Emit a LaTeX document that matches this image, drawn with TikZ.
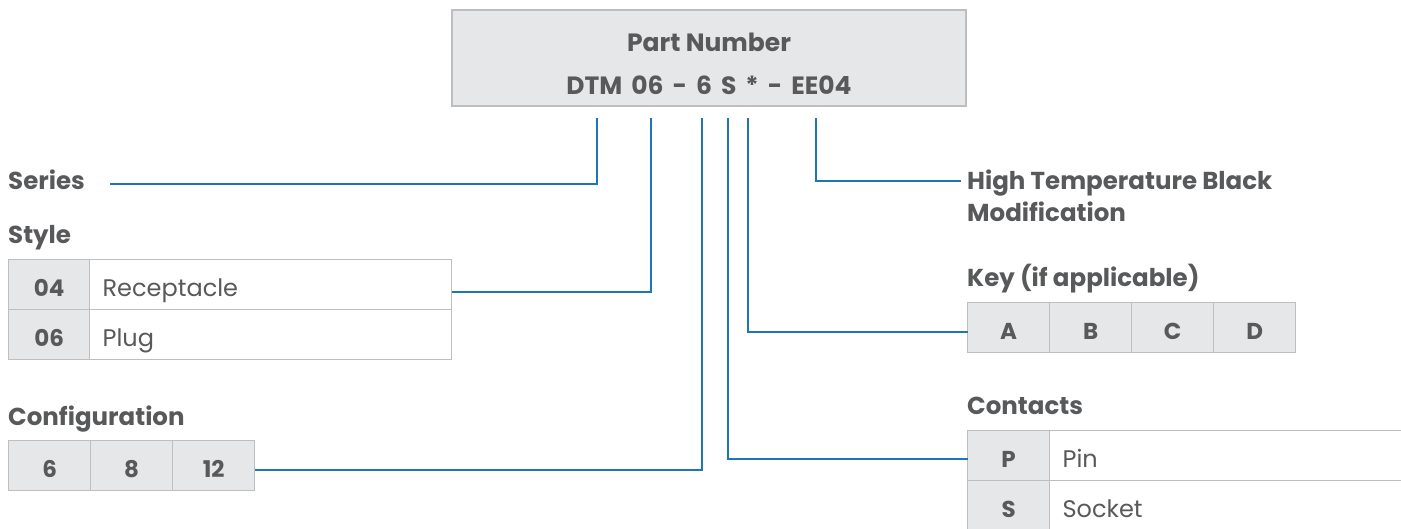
\documentclass[tikz,border=0pt]{standalone}
\usepackage{fontspec}
\setmainfont{Poppins}
\usetikzlibrary{matrix,positioning}

\definecolor{ink}{HTML}{58595B}
\definecolor{wireblue}{HTML}{1E77AF}
\definecolor{cellgray}{HTML}{E6E7E8}
\definecolor{rulegray}{HTML}{BDBEC0}

\tikzset{
  wire/.style={draw=wireblue, line width=1.9pt},
  title/.style={anchor=base west, inner sep=0pt, text=ink, font=\fontsize{24.5}{32}\selectfont\bfseries},
  cell/.style={draw=rulegray, line width=1.3pt, fill=cellgray, text=ink, inner sep=0pt,
    minimum height=50pt, text height=24pt, text depth=0pt, font=\fontsize{23}{26}\selectfont\bfseries},
  desc/.style={fill=white, font=\fontsize{24}{26}\selectfont, align=left, inner xsep=13pt},
  table/.style={matrix of nodes, anchor=north west, inner sep=0pt, outer sep=0pt,
    column sep=-1.3pt, row sep=-1.3pt, nodes={cell}},
}

\begin{document}
\begin{tikzpicture}[x=1pt, y=-1pt]
  \useasboundingbox (0,0) rectangle (1401,529);

  \node (partnum) [draw=rulegray, line width=1.3pt, fill=cellgray, text=ink, minimum width=514pt,
    minimum height=96pt, align=center, text height=74pt, text depth=0pt,
    font=\fontsize{25}{43}\selectfont\bfseries] at (709,58)
    {Part Number\\{\spaceskip=0.36em\relax DTM 06 - 6 S * - EE04}};

  % where each wire leaves the part number
  \coordinate (tseries) at (597,118);
  \coordinate (tstyle) at (651,118);
  \coordinate (tconfig) at (702,118);
  \coordinate (tcontacts) at (728,118);
  \coordinate (tkey) at (748,118);
  \coordinate (ttemp) at (816,118);
  \coordinate (seriesend) at (110,184);
  \coordinate (tempend) at (961,181);

  \node (series) [title] at (8,190) {Series};
  \node (styletitle) [title] at (8,243.5) {Style};
  \node (configtitle) [title] at (8,425.5) {Configuration};
  \node (keytitle) [title] at (967,286.5) {Key (if applicable)};
  \node (contacttitle) [title] at (967,414.5) {Contacts};
  \node (hightemp) [title, align=left] at (967,222) {High Temperature Black\\Modification};

  \matrix (stylemx) [table, column 1/.style={nodes={minimum width=81pt}},
    column 2/.style={nodes={desc, text width=336pt}}] at (8,259)
  {
04 & Receptacle \\
06 & Plug \\
};

  \matrix (configmx) [table, nodes={minimum width=82pt}] at (8,440)
  {
6 & 8 & 12 \\
};

  \matrix (keymx) [table, nodes={minimum width=82pt}] at (967,302)
  {
A & B & C & D \\
};

  \matrix (contactmx) [table, column 1/.style={nodes={minimum width=82pt}},
    column 2/.style={nodes={desc, text width=400pt}}] at (967,430)
  {
P & Pin \\
S & Socket \\
};

  \draw[wire] (seriesend) -| (tseries);
  \draw[wire] ([yshift=-7pt]stylemx-1-2.east) -| (tstyle);
  \draw[wire] ([yshift=-4pt]configmx-1-3.east) -| (tconfig);
  \draw[wire] (tcontacts) |- ([yshift=-3.5pt]contactmx-1-1.west);
  \draw[wire] (tkey) |- ([yshift=-4pt]keymx-1-1.west);
  \draw[wire] (ttemp) |- (tempend);
\end{tikzpicture}
\end{document}
